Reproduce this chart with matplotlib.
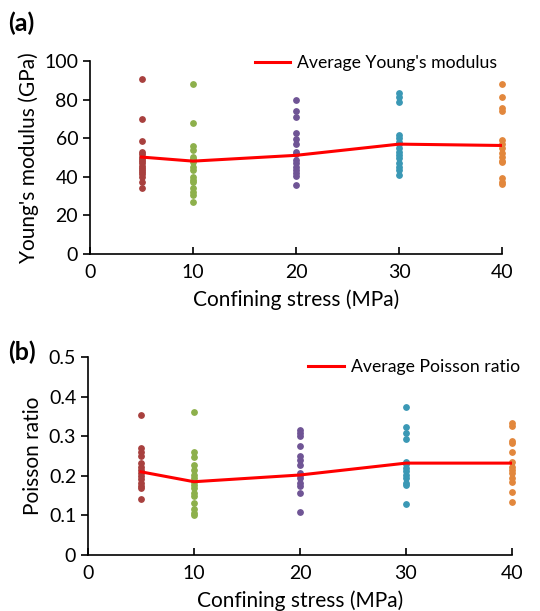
import matplotlib
matplotlib.use("Agg")
import matplotlib.pyplot as plt
import numpy as np

plt.rcParams['font.family'] = ['Lato', 'DejaVu Sans']

# confining stress levels (MPa)
stress = [5, 10, 20, 30, 40]
colores = ['#A8403E', '#8DB04B', '#6F5495', '#3A98B5', '#E2873C']

# Young's modulus (GPa) per stress level
E_5 = [90.7, 70.1, 58.4, 52.7, 51.6, 50.4, 49.4, 48.2, 47.0, 45.8, 44.7, 43.5, 42.3, 41.3, 40.1, 37.5, 34.0]
E_10 = [87.9, 68.0, 56.1, 53.9, 50.4, 49.2, 47.8, 45.2, 43.5, 40.1, 38.3, 37.1, 34.0, 32.3, 30.6, 27.0]
E_20 = [79.8, 74.3, 71.2, 62.5, 59.4, 57.0, 52.7, 52.0, 48.7, 47.0, 45.2, 43.5, 41.8, 40.6, 35.8]
E_30 = [83.6, 81.5, 78.9, 61.7, 59.9, 58.2, 56.8, 54.8, 53.0, 51.3, 49.6, 47.3, 45.2, 43.5, 40.9]
E_40 = [87.9, 81.2, 75.5, 74.3, 59.1, 57.0, 54.8, 52.2, 50.4, 48.4, 47.5, 39.2, 37.5, 36.1]
E_avg = [50.2, 48.1, 51.1, 56.9, 56.2]

# Poisson ratio per stress level
v_5 = [0.354, 0.270, 0.259, 0.249, 0.232, 0.223, 0.215, 0.208, 0.200, 0.191, 0.183, 0.175, 0.169, 0.142]
v_10 = [0.362, 0.261, 0.247, 0.228, 0.215, 0.202, 0.194, 0.185, 0.177, 0.169, 0.156, 0.148, 0.132, 0.116, 0.105, 0.101]
v_20 = [0.316, 0.308, 0.301, 0.274, 0.249, 0.240, 0.228, 0.208, 0.202, 0.194, 0.183, 0.173, 0.156, 0.108]
v_30 = [0.373, 0.322, 0.308, 0.293, 0.236, 0.229, 0.219, 0.211, 0.202, 0.194, 0.183, 0.177, 0.129]
v_40 = [0.333, 0.325, 0.289, 0.284, 0.259, 0.234, 0.223, 0.215, 0.207, 0.194, 0.185, 0.160, 0.135]
v_avg = [0.210, 0.185, 0.202, 0.232, 0.232]

E_all = [E_5, E_10, E_20, E_30, E_40]
v_all = [v_5, v_10, v_20, v_30, v_40]

fig = plt.figure(figsize=(5.4, 6.11), dpi=100)
ax1 = fig.add_axes([0.1667, 0.5843, 0.763, 0.316])
ax2 = fig.add_axes([0.163, 0.0917, 0.785, 0.324])


def estilo(ax):
    for s in ['top', 'right']:
        ax.spines[s].set_visible(False)
    for s in ['left', 'bottom']:
        ax.spines[s].set_linewidth(1.2)
    ax.tick_params(axis='y', direction='out', length=5, width=1.2, labelsize=14)
    ax.tick_params(axis='x', direction='in', length=5, width=1.2, labelsize=14, pad=7)
    ax.set_xlim(0, 40)
    ax.set_xticks([0, 10, 20, 30, 40])
    ax.set_xlabel('Confining stress (MPa)', fontsize=15, labelpad=6)


# GRAFICA (a)
for i in range(len(stress)):
    ax1.scatter([stress[i]] * len(E_all[i]), E_all[i], s=15, color=colores[i], zorder=2, clip_on=False)
ax1.plot(stress, E_avg, '-', color='#FF0000', lw=2.2, zorder=3, label="Average Young's modulus")
estilo(ax1)
ax1.set_ylim(0, 100)
ax1.set_yticks([0, 20, 40, 60, 80, 100])
ax1.set_ylabel("Young's modulus (GPa)", fontsize=15)
ax1.legend(loc='upper right', frameon=False, fontsize=12.7, handlelength=2.0, handletextpad=0.4,
           bbox_to_anchor=(1.005, 1.065), borderaxespad=0)

# GRAFICA (b)
for i in range(len(stress)):
    ax2.scatter([stress[i]] * len(v_all[i]), v_all[i], s=15, color=colores[i], zorder=2, clip_on=False)
ax2.plot(stress, v_avg, '-', color='#FF0000', lw=2.2, zorder=3, label='Average Poisson ratio')
estilo(ax2)
ax2.set_ylim(0, 0.5)
ax2.set_yticks([0, 0.1, 0.2, 0.3, 0.4, 0.5])
ax2.set_yticklabels(['0', '0.1', '0.2', '0.3', '0.4', '0.5'])
ax2.set_ylabel('Poisson ratio', fontsize=15)
ax2.legend(loc='upper right', frameon=False, fontsize=12.7, handlelength=2.0, handletextpad=0.4,
           bbox_to_anchor=(1.035, 1.025), borderaxespad=0)

fig.text(0.015, 0.962, '(a)', fontsize=18, fontweight='bold', va='center')
fig.text(0.015, 0.424, '(b)', fontsize=18, fontweight='bold', va='center')

fig.savefig('out.png', dpi=100)
